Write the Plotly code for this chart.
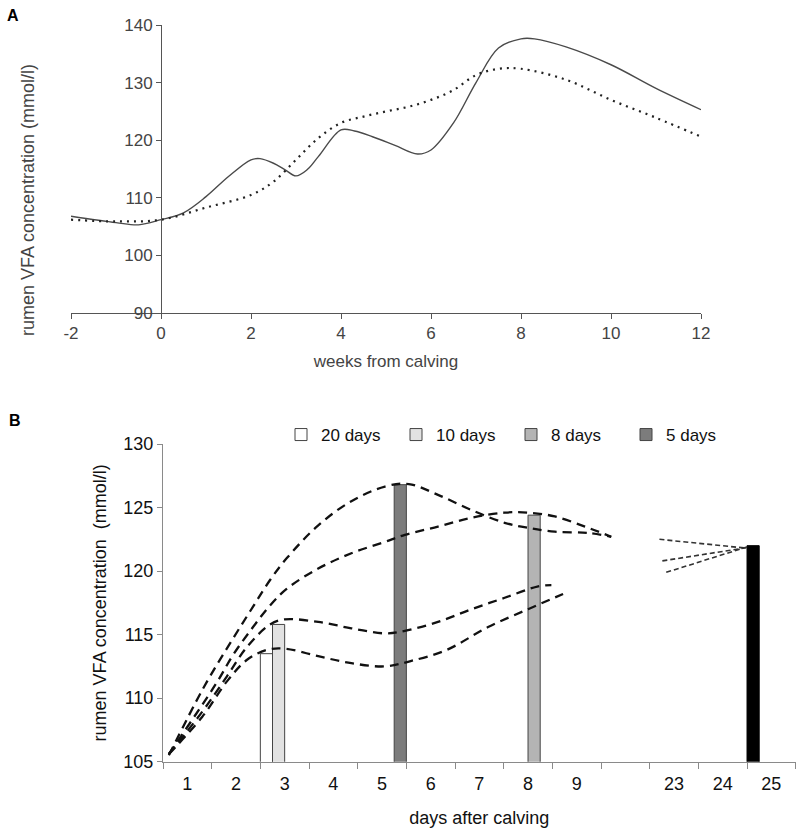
import plotly.graph_objects as go

# ---------------- Panel A data (weeks from calving) ----------------
weeks_solid = [-2, -1, -0.5, 0, 0.5, 1, 1.5, 2, 2.2, 2.5, 2.75, 3, 3.25, 3.5, 4, 4.3, 4.7, 5.2, 5.7, 6, 6.5, 7, 7.5, 8, 8.3, 9, 10, 11, 12]
vfa_solid = [106.8, 105.7, 105.3, 106.2, 107.4, 110.2, 113.7, 116.6, 116.8, 116.0, 114.9, 113.8, 114.9, 117.2, 121.8, 121.6, 120.6, 119.1, 117.6, 118.3, 123.0, 130.0, 136.0, 137.6, 137.6, 136.2, 133.1, 129.0, 125.3]

weeks_dotted = [-2, -1, 0, 1, 2, 2.5, 3, 3.5, 4, 4.5, 5, 5.5, 6, 6.5, 7, 7.5, 8, 9, 10, 11, 12]
vfa_dotted = [106.2, 105.9, 106.2, 108.3, 110.5, 112.8, 116.6, 120.4, 123.0, 124.1, 125.0, 125.8, 127.0, 128.7, 131.3, 132.4, 132.4, 130.5, 127.0, 123.9, 120.6]

weeks_ticks = [-2, 0, 2, 4, 6, 8, 10, 12]
weeks_ticktext = ["-2", "0", "2", "4", "6", "8", "10", "12"]

# ---------------- Panel B data (days after calving) ----------------
day_labels = ["1", "2", "3", "4", "5", "6", "7", "8", "9", "", "23", "24", "25"]
day_pos = list(range(1, len(day_labels) + 1))
day_bounds = [i + 0.5 for i in range(0, len(day_labels) + 1)]

bar_names = ["20 days", "10 days", "8 days", "5 days"]
bar_pos = [2.625, 2.875, 8.125, 5.375]
bar_vals = [113.5, 115.8, 124.4, 126.8]
bar_colors = ["#ffffff", "#e2e2e2", "#b4b4b4", "#7c7c7c"]

final_pos = [12.625]
final_val = [122.0]

c1_x = [0.62, 1.33, 1.94, 2.35, 2.70, 3.04, 3.69, 4.37, 5.06, 5.55, 6.15, 6.84, 7.52, 8.0, 8.55, 9.23, 9.71]
c1_y = [105.5, 110.8, 114.7, 117.2, 119.3, 121.0, 123.6, 125.5, 126.65, 126.85, 126.0, 124.8, 123.8, 123.4, 123.1, 123.0, 122.7]
c2_x = [0.62, 1.60, 1.94, 2.35, 2.70, 3.04, 3.69, 4.37, 5.06, 5.47, 6.15, 6.84, 7.52, 8.0, 8.55, 9.17, 9.71]
c2_y = [105.6, 111.2, 113.4, 115.6, 117.3, 118.6, 120.2, 121.4, 122.3, 122.85, 123.5, 124.2, 124.6, 124.6, 124.3, 123.5, 122.7]
c3_x = [0.62, 1.30, 1.81, 2.22, 2.70, 3.0, 3.69, 4.37, 5.06, 5.47, 6.15, 6.84, 7.52, 8.21, 8.48]
c3_y = [105.6, 108.9, 111.7, 114.0, 115.8, 116.2, 116.0, 115.5, 115.1, 115.3, 116.0, 117.0, 117.9, 118.8, 118.9]
c4_x = [0.62, 1.30, 1.81, 2.22, 2.63, 3.0, 3.69, 4.37, 5.06, 5.57, 6.33, 7.18, 8.0, 8.72]
c4_y = [105.6, 108.5, 111.3, 113.0, 113.8, 113.9, 113.3, 112.75, 112.5, 112.9, 113.8, 115.6, 117.0, 118.2]

r_x = [[10.70, 12.5], [10.76, 12.5], [10.84, 12.5]]
r_y = [[122.5, 121.8], [120.8, 121.85], [119.9, 121.9]]

W, H = 800, 831
FONT = "Liberation Sans, Arial, sans-serif"

fig = go.Figure()

# Panel A lines
fig.add_trace(go.Scatter(x=weeks_solid, y=vfa_solid, mode="lines",
                         line=dict(color="#4a4a4a", width=1.4, shape="spline", smoothing=1.0),
                         showlegend=False, xaxis="x", yaxis="y"))
fig.add_trace(go.Scatter(x=weeks_dotted, y=vfa_dotted, mode="lines",
                         line=dict(color="#222222", width=2.2, dash="2px,5px", shape="spline", smoothing=1.0),
                         showlegend=False, xaxis="x", yaxis="y"))

# Panel B bars (legend order: 20, 10, 8, 5 days)
for name, pos, val, col in zip(bar_names, bar_pos, bar_vals, bar_colors):
    fig.add_trace(go.Bar(x=[pos], y=[val], width=0.25, name=name,
                         marker=dict(color=col, line=dict(color="#444444", width=1)),
                         xaxis="x2", yaxis="y2"))
fig.add_trace(go.Bar(x=final_pos, y=final_val, width=0.25, name="", showlegend=False,
                     marker=dict(color="#000000", line=dict(color="#000000", width=1)), xaxis="x2", yaxis="y2"))

# Panel B curves
for cx, cy in [(c1_x, c1_y), (c2_x, c2_y), (c3_x, c3_y), (c4_x, c4_y)]:
    fig.add_trace(go.Scatter(x=cx, y=cy, mode="lines",
                             line=dict(color="#111111", width=2.3, dash="9px,6px", shape="spline", smoothing=1.0),
                             showlegend=False, xaxis="x2", yaxis="y2"))
for cx, cy in zip(r_x, r_y):
    fig.add_trace(go.Scatter(x=cx, y=cy, mode="lines", line=dict(color="#333333", width=1.6, dash="5px,3px"),
                             showlegend=False, xaxis="x2", yaxis="y2"))

fig.update_layout(
    width=W, height=H, template="none",
    margin=dict(l=0, r=0, t=0, b=0),
    paper_bgcolor="white", plot_bgcolor="rgba(0,0,0,0)",
    font=dict(family=FONT, color="#222"),
    barmode="overlay",
    xaxis=dict(domain=[71 / W, 701 / W], range=[-2, 12], tickmode="array", tickvals=weeks_ticks, ticktext=weeks_ticktext,
               ticks="outside", ticklen=5, tickcolor="#555", showline=True, linecolor="#555", linewidth=1,
               showgrid=False, zeroline=False, anchor="y",
               tickfont=dict(family=FONT, size=17, color="#444"),
               title=dict(text="weeks from calving", font=dict(family=FONT, size=17, color="#444"), standoff=12)),
    yaxis=dict(domain=[1 - 313 / H, 1 - 25 / H], range=[90, 140], dtick=10, anchor="free", position=161 / W,
               ticks="outside", ticklen=5, tickcolor="#555", showline=True, linecolor="#555", linewidth=1,
               showgrid=False, zeroline=False, tickfont=dict(family=FONT, size=17, color="#444")),
    xaxis2=dict(domain=[163 / W, 795.7 / W], range=[0.5, 13.5], tickmode="array", tickvals=day_pos, ticktext=day_labels,
                ticks="outside", ticklen=6, tickcolor="rgba(0,0,0,0)",
                showline=True, linecolor="#8a8a8a", linewidth=1, showgrid=False, zeroline=False, anchor="y2",
                minor=dict(tickmode="array", tickvals=day_bounds, ticks="outside", ticklen=6, tickcolor="#8a8a8a", showgrid=False),
                tickfont=dict(family=FONT, size=18, color="#111"),
                title=dict(text="days after calving", font=dict(family=FONT, size=18, color="#111"), standoff=18)),
    yaxis2=dict(domain=[1 - 761.7 / H, 1 - 444 / H], range=[105, 130], dtick=5, anchor="x2",
                ticks="outside", ticklen=5, tickcolor="#8a8a8a", showline=True, linecolor="#8a8a8a", linewidth=1,
                showgrid=False, zeroline=False, tickfont=dict(family=FONT, size=18, color="#111"),
                title=dict(text="rumen VFA concentration  (mmol/l)", font=dict(family=FONT, size=18, color="#111"), standoff=12)),
    legend=dict(orientation="h", x=281 / W, xanchor="left", y=1 - 435 / H, yanchor="middle",
                font=dict(family=FONT, size=17, color="#111"), entrywidth=70, entrywidthmode="pixels",
                itemwidth=30, bgcolor="rgba(0,0,0,0)", traceorder="normal"),
    annotations=[
        dict(text="<b>A</b>", x=5 / W, y=1 - 15 / H, xref="paper", yref="paper", xanchor="left", yanchor="middle",
             showarrow=False, font=dict(family=FONT, size=16, color="#000")),
        dict(text="<b>B</b>", x=7 / W, y=1 - 420 / H, xref="paper", yref="paper", xanchor="left", yanchor="middle",
             showarrow=False, font=dict(family=FONT, size=16, color="#000")),
        dict(text="rumen VFA concentration (mmol/l)", x=28 / W, y=1 - 200 / H, xref="paper", yref="paper",
             xanchor="center", yanchor="middle", textangle=-90, showarrow=False,
             font=dict(family=FONT, size=18, color="#444")),
    ],
)

fig.write_html("out.html", config={"displayModeBar": False},
               post_script="document.body.style.margin='0px';")
